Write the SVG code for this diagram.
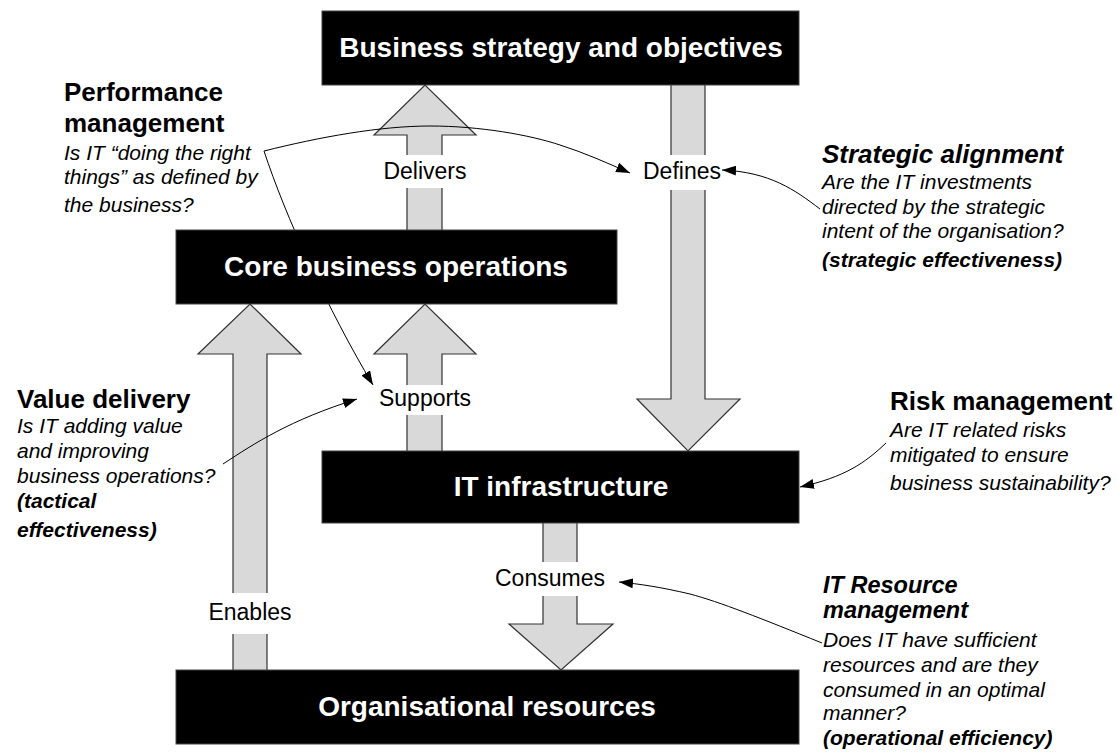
<svg xmlns="http://www.w3.org/2000/svg" width="1117" height="753" viewBox="0 0 1117 753">
<style>
.bg{fill:#ffffff}
.arw{fill:#d9d9d9;stroke:#333333;stroke-width:1.2;stroke-linejoin:miter}
.gap{fill:#ffffff}
.box{fill:#000000;stroke:#444444;stroke-width:1}
.bt{font-family:"Liberation Sans",Arial,sans-serif;font-weight:bold;font-size:28px;fill:#ffffff;text-anchor:middle}
.lbl{font-family:"Liberation Sans",Arial,sans-serif;font-size:23px;fill:#000000}
.h{font-family:"Liberation Sans",Arial,sans-serif;font-weight:bold;font-size:26px;fill:#000000}
.hi{font-family:"Liberation Sans",Arial,sans-serif;font-weight:bold;font-style:italic;font-size:26px;fill:#000000}
.q{font-family:"Liberation Sans",Arial,sans-serif;font-style:italic;font-size:21px;fill:#000000}
.qb{font-family:"Liberation Sans",Arial,sans-serif;font-style:italic;font-weight:bold;font-size:21px;fill:#000000}
.con{fill:none;stroke:#000000;stroke-width:1;marker-end:url(#ah)}
</style>
<defs>
<marker id="ah" viewBox="0 0 14 10" refX="14" refY="5" markerWidth="14" markerHeight="10" markerUnits="userSpaceOnUse" orient="auto">
<path d="M0,0 L14,5 L0,10 z" fill="#000000"/>
</marker>
</defs>
<rect class="bg" x="0" y="0" width="1117" height="753"/>

<g id="flow-arrows">
<g id="arrow-delivers">
<path class="arw" d="M407,230 L407,135 L374,135 L425,85 L476,135 L442,135 L442,230"/>
<rect class="gap" x="405" y="155" width="39" height="33"/>
<text class="lbl" x="425" y="179" text-anchor="middle">Delivers</text>
</g>
<g id="arrow-defines">
<path class="arw" d="M671,85 L671,399 L637,399 L688,451 L740,399 L705,399 L705,85"/>
<rect class="gap" x="669" y="155" width="39" height="35"/>
<text class="lbl" x="643" y="179">Defines</text>
</g>
<g id="arrow-enables">
<path class="arw" d="M233,670 L233,354 L198,354 L250,304 L301,354 L267,354 L267,670"/>
<rect class="gap" x="231" y="593" width="39" height="41"/>
<text class="lbl" x="250" y="620" text-anchor="middle">Enables</text>
</g>
<g id="arrow-supports">
<path class="arw" d="M407,451 L407,354 L374,354 L425,304 L476,354 L442,354 L442,451"/>
<rect class="gap" x="405" y="385" width="39" height="30"/>
<text class="lbl" x="425" y="406" text-anchor="middle">Supports</text>
</g>
<g id="arrow-consumes">
<path class="arw" d="M543,523 L543,624 L509,624 L561,670 L613,624 L577,624 L577,523"/>
<rect class="gap" x="541" y="562" width="39" height="34"/>
<text class="lbl" x="495" y="586">Consumes</text>
</g>
</g>

<g id="connectors">
<path class="con" d="M264,151 C320,137 380,126 430,126 C480,126 530,135 560,145 C585,153 605,162 630,173"/>
<path class="con" d="M264,151 C285,215 328,310 373,385"/>
<path class="con" d="M820,209 C795,190 770,172 722,170"/>
<path class="con" d="M223,464 C255,443 290,420 357,399"/>
<path class="con" d="M886,443 C865,463 845,477 800,487"/>
<path class="con" d="M822,643 C760,618 720,602 690,594 C660,587 640,584 619,582"/>
</g>

<g id="node-business-strategy">
<rect class="box" x="322" y="11" width="477" height="74"/>
<text class="bt" x="561" y="57">Business strategy and objectives</text>
</g>
<g id="node-core-operations">
<rect class="box" x="176" y="230" width="441" height="74"/>
<text class="bt" x="396" y="276">Core business operations</text>
</g>
<g id="node-it-infrastructure">
<rect class="box" x="322" y="451" width="477" height="72"/>
<text class="bt" x="561" y="496">IT infrastructure</text>
</g>
<g id="node-org-resources">
<rect class="box" x="176" y="670" width="623" height="74"/>
<text class="bt" x="487" y="716">Organisational resources</text>
</g>

<g id="note-performance">
<text class="h" x="64" y="101">Performance</text>
<text class="h" x="64" y="132">management</text>
<text class="q" x="64" y="160">Is IT “doing the right</text>
<text class="q" x="64" y="184">things” as defined by</text>
<text class="q" x="64" y="212">the business?</text>
</g>
<g id="note-strategic">
<text class="hi" x="822" y="163">Strategic alignment</text>
<text class="q" x="822" y="189">Are the IT investments</text>
<text class="q" x="822" y="214">directed by the strategic</text>
<text class="q" x="822" y="238">intent of the organisation?</text>
<text class="qb" x="822" y="267">(strategic effectiveness)</text>
</g>
<g id="note-value">
<text class="h" x="17" y="408">Value delivery</text>
<text class="q" x="17" y="433">Is IT adding value</text>
<text class="q" x="17" y="458">and improving</text>
<text class="q" x="17" y="483">business operations?</text>
<text class="qb" x="17" y="508">(tactical</text>
<text class="qb" x="17" y="537">effectiveness)</text>
</g>
<g id="note-risk">
<text class="h" x="890" y="410">Risk management</text>
<text class="q" x="890" y="437">Are IT related risks</text>
<text class="q" x="890" y="462">mitigated to ensure</text>
<text class="q" x="890" y="490">business sustainability?</text>
</g>
<g id="note-resource">
<text class="hi" x="823" y="593" style="font-size:23.5px">IT Resource</text>
<text class="hi" x="823" y="618" style="font-size:23.5px">management</text>
<text class="q" x="823" y="647">Does IT have sufficient</text>
<text class="q" x="823" y="672">resources and are they</text>
<text class="q" x="823" y="697">consumed in an optimal</text>
<text class="q" x="823" y="720">manner?</text>
<text class="qb" x="823" y="745">(operational efficiency)</text>
</g>
</svg>
